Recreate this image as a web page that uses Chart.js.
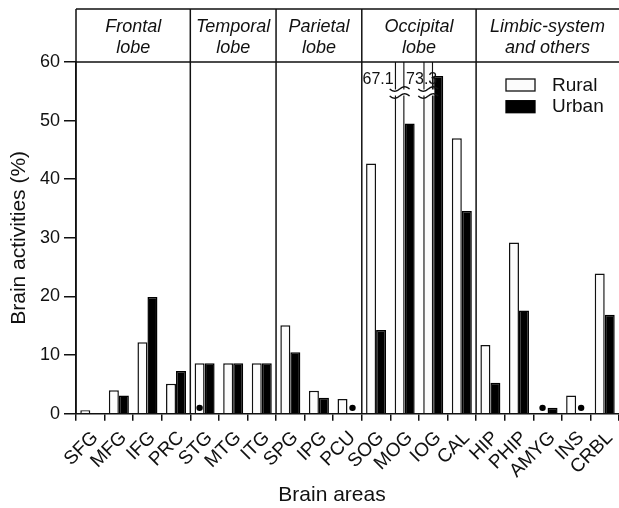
<!DOCTYPE html>
<html>
<head>
<meta charset="utf-8">
<script src="https://cdn.jsdelivr.net/npm/chart.js@4/dist/chart.umd.min.js"></script>
<style>
  html, body { margin: 0; padding: 0; background: #fff; }
  #chart { display: block; }
</style>
</head>
<body>
<canvas id="chart" width="619" height="508"></canvas>
<script>
// Daten
const categories = ['SFG', 'MFG', 'IFG', 'PRC', 'STG', 'MTG', 'ITG', 'SPG', 'IPG', 'PCU',
    'SOG', 'MOG', 'IOG', 'CAL', 'HIP', 'PHIP', 'AMYG', 'INS', 'CRBL'];
const rural = [0.6, 4.0, 12.2, 5.1, 8.6, 8.6, 8.6, 15.1, 3.9, 2.5,
    42.7, 67.1, 73.3, 47.0, 11.7, 29.2, 0, 3.1, 23.9];
const urban = [0.1, 3.1, 19.9, 7.3, 8.6, 8.6, 8.6, 10.5, 2.7, 0,
    14.3, 49.5, 57.6, 34.6, 5.3, 17.6, 1.0, 0, 16.9];
// Punkte (nicht nachweisbar)
const ruralDots = ['STG', 'AMYG'];
const urbanDots = ['PCU', 'INS'];
const dotValue = 1;
// Hirnlappen
const lobeNames = [['Frontal', 'lobe'], ['Temporal', 'lobe'], ['Parietal', 'lobe'],
    ['Occipital', 'lobe'], ['Limbic-system', 'and others']];
const lobeSizes = [4, 3, 3, 4, 5];
const yTicks = [0, 10, 20, 30, 40, 50, 60];

const FONT = '"Liberation Sans", Arial, sans-serif';
const INK = '#111';

// Kopfzeile, Trennlinien, Legende, Achsentitel
const decorations = {
    id: 'decorations',
    afterDatasetsDraw(chart) {
        const ctx = chart.ctx;
        const area = chart.chartArea;
        const x = chart.scales.x;
        const y = chart.scales.y;
        const top = 9;
        const yMax = y.max;

        ctx.save();
        ctx.strokeStyle = INK;
        ctx.lineWidth = 1.5;

        // Linien oben
        ctx.beginPath();
        ctx.moveTo(area.left, top);
        ctx.lineTo(area.right, top);
        ctx.moveTo(area.left, y.getPixelForValue(yMax));
        ctx.lineTo(area.right, y.getPixelForValue(yMax));
        ctx.moveTo(area.left, top);
        ctx.lineTo(area.left, area.bottom);
        ctx.stroke();

        // Trennlinien + Beschriftung der Lappen
        const step = x.getPixelForValue(1) - x.getPixelForValue(0);
        let start = 0;
        lobeNames.forEach((name, i) => {
            const end = start + lobeSizes[i];
            const xl = x.getPixelForValue(start) - step / 2;
            const xr = Math.min(x.getPixelForValue(end - 1) + step / 2, area.right);
            if (i > 0) {
                ctx.beginPath();
                ctx.moveTo(xl, top);
                ctx.lineTo(xl, area.bottom);
                ctx.stroke();
            }
            ctx.fillStyle = INK;
            ctx.font = 'italic 18px ' + FONT;
            ctx.textAlign = 'center';
            ctx.textBaseline = 'alphabetic';
            ctx.fillText(name[0], (xl + xr) / 2, 32);
            ctx.fillText(name[1], (xl + xr) / 2, 53);
            start = end;
        });

        // Balken über dem Maximum: Bruchzeichen + Wert
        const meta = chart.getDatasetMeta(0);
        let n = 0;
        rural.forEach((v, i) => {
            if (v <= yMax) return;
            const bar = meta.data[i];
            const w = bar.width;
            const yb = 92.5;
            ctx.fillStyle = '#fff';
            ctx.fillRect(bar.x - w / 2 - 1, yb - 3, w + 2, 6);
            ctx.strokeStyle = INK;
            ctx.lineWidth = 1.4;
            [-3.5, 3.5].forEach(d => {
                ctx.beginPath();
                for (let t = 0; t <= 20; t++) {
                    const px = bar.x - 10 + t;
                    const py = yb + d + 2.2 * Math.sin(t / 20 * 2 * Math.PI);
                    if (t === 0) ctx.moveTo(px, py); else ctx.lineTo(px, py);
                }
                ctx.stroke();
            });
            ctx.fillStyle = INK;
            ctx.font = '16px ' + FONT;
            ctx.textBaseline = 'middle';
            ctx.textAlign = 'right';
            const tx = n === 0 ? bar.x - w / 2 - 1 : bar.x + 9;
            ctx.fillText(v.toFixed(1), tx, 80);
            n++;
        });

        // Punkte
        const dotY = y.getPixelForValue(dotValue);
        ctx.fillStyle = '#000';
        [[ruralDots, 0], [urbanDots, 1]].forEach(([list, ds]) => {
            const m = chart.getDatasetMeta(ds);
            list.forEach(c => {
                const bar = m.data[categories.indexOf(c)];
                ctx.beginPath();
                ctx.arc(bar.x, dotY, 3.2, 0, 2 * Math.PI);
                ctx.fill();
            });
        });

        // Legende
        ctx.lineWidth = 1.3;
        chart.data.datasets.forEach((ds, i) => {
            const by = 79 + i * 21.7;
            ctx.fillStyle = ds.backgroundColor;
            ctx.strokeStyle = ds.borderColor;
            ctx.fillRect(506, by, 29, 12);
            ctx.strokeRect(506, by, 29, 12);
            ctx.fillStyle = INK;
            ctx.font = '19px ' + FONT;
            ctx.textAlign = 'left';
            ctx.textBaseline = 'middle';
            ctx.fillText(ds.label, 552, by + 6.5);
        });

        // Achsentitel
        ctx.fillStyle = INK;
        ctx.font = '21px ' + FONT;
        ctx.textAlign = 'center';
        ctx.textBaseline = 'alphabetic';
        ctx.fillText('Brain areas', 332, 501);
        ctx.translate(25, (area.top + area.bottom) / 2);
        ctx.rotate(-Math.PI / 2);
        ctx.fillText('Brain activities (%)', 0, 0);

        ctx.restore();
    }
};

const ctx = document.getElementById('chart').getContext('2d');
const brainChart = new Chart(ctx, {
    type: 'bar',
    data: {
        labels: categories,
        datasets: [
            {
                label: 'Rural',
                data: rural,
                backgroundColor: '#fcfcfc',
                borderColor: INK,
                borderWidth: 1.5,
                categoryPercentage: 0.7,
                barPercentage: 1.0
            },
            {
                label: 'Urban',
                data: urban,
                backgroundColor: '#000',
                borderColor: '#000',
                borderWidth: 1.5,
                categoryPercentage: 0.7,
                barPercentage: 1.0
            }
        ]
    },
    options: {
        responsive: false,
        animation: false,
        devicePixelRatio: 1,
        layout: { padding: { top: 62, right: 0, left: 0, bottom: 0 } },
        plugins: {
            legend: { display: false },
            tooltip: { enabled: false }
        },
        scales: {
            x: {
                grid: {
                    offset: true,
                    drawOnChartArea: false,
                    tickLength: 7,
                    color: INK,
                    lineWidth: 1.5
                },
                border: { display: true, color: INK, width: 1.5 },
                ticks: {
                    autoSkip: false,
                    maxRotation: 45,
                    minRotation: 45,
                    padding: 6,
                    labelOffset: 5,
                    color: INK,
                    font: { family: FONT, size: 19 }
                },
                afterFit: s => {
                    s.height = 508 - 413.7;
                    s.paddingLeft = 0;
                    s.paddingRight = 0;
                }
            },
            y: {
                min: 0,
                max: 60,
                afterBuildTicks: s => { s.ticks = yTicks.map(v => ({ value: v })); },
                grid: {
                    drawOnChartArea: false,
                    tickLength: 12,
                    color: INK,
                    lineWidth: 1.5
                },
                border: { display: true, color: INK, width: 1.5 },
                ticks: {
                    padding: 4,
                    color: INK,
                    font: { family: FONT, size: 18 }
                },
                afterFit: s => {
                    s.width = 76;
                    s.paddingTop = 0;
                    s.paddingBottom = 0;
                }
            }
        }
    },
    plugins: [decorations]
});
</script>
</body>
</html>
